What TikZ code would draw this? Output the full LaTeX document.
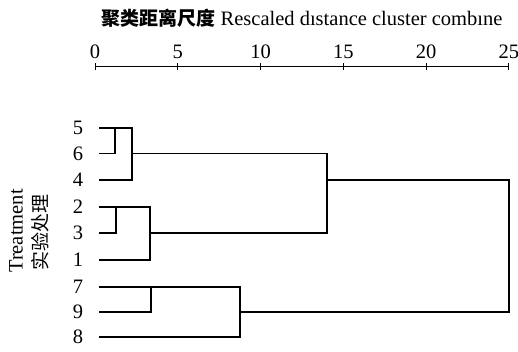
\documentclass[tikz,border=0pt]{standalone}
\usepackage{fontspec}
\setmainfont{Liberation Serif}
\newfontfamily\cjk{Noto Sans CJK SC}
\begin{document}
\begin{tikzpicture}[x=1pt,y=1pt,
  lbl/.style={font=\fontsize{20.5}{20.5}\selectfont, inner sep=0pt},
  tick/.style={font=\fontsize{20.5}{20.5}\selectfont, inner sep=0pt, anchor=base},
  ln/.style={line width=1.3pt, line cap=rect}]
\useasboundingbox (0,0) rectangle (518,351);
% rows (y = 351 - pixel row)
\def\rA{223}\def\rB{197.5}\def\rC{171}\def\rD{144}\def\rE{118}\def\rF{91}\def\rG{64}\def\rH{39}\def\rI{14}
% title
\node[lbl, anchor=base] (title) at (302,325) {{\cjk\bfseries\fontsize{19}{19}\selectfont 聚类距离尺度} Rescaled dıstance cluster combıne};
% axis
\foreach \v [count=\i] in {0,5,10,15,20,25}{
  \pgfmathsetmacro{\xx}{95+16.55*\v}
  \node[tick] (t\i) at (\xx,292) {\v};
  \coordinate (k\i) at (\xx,284);
}
\draw[line width=1pt] (95,284) -- (509,284);
\foreach \i in {1,...,6}{ \draw[line width=1pt] ([yshift=3.5pt]k\i) -- ([yshift=-3.5pt]k\i); }
% y label
\node[lbl, rotate=90] (ylab1) at (16,120) {Treatment};
\node[lbl, rotate=90] (ylab2) at (40,119) {\cjk\fontsize{19}{19}\selectfont 实验处理};
% leaf labels
\node[lbl] (n5) at (78,\rA) {5};
\node[lbl] (n6) at (78,\rB) {6};
\node[lbl] (n4) at (78,\rC) {4};
\node[lbl] (n2) at (78,\rD) {2};
\node[lbl] (n3) at (78,\rE) {3};
\node[lbl] (n1) at (78,\rF) {1};
\node[lbl] (n7) at (78,\rG) {7};
\node[lbl] (n9) at (78,\rH) {9};
\node[lbl] (n8) at (78,\rI) {8};
% leaf starts
\foreach \n in {5,6,4,2,3,1,7,9,8}{ \coordinate (s\n) at ([xshift=22pt]n\n.center); }
% merge points
\coordinate (a1) at (115,\rA); \coordinate (a2) at (115,\rB);
\coordinate (b1) at (132,\rA); \coordinate (b2) at (132,\rB); \coordinate (b3) at (132,\rC);
\coordinate (c1) at (116,\rD); \coordinate (c2) at (116,\rE);
\coordinate (d1) at (150,\rD); \coordinate (d2) at (150,\rE); \coordinate (d3) at (150,\rF);
\coordinate (e1) at (327,\rB); \coordinate (e2) at (327,\rC); \coordinate (e3) at (327,\rE);
\coordinate (f1) at (151,\rG); \coordinate (f2) at (151,\rH);
\coordinate (g1) at (240,\rG); \coordinate (g2) at (240,\rH); \coordinate (g3) at (240,\rI);
\coordinate (r1) at (509,\rC); \coordinate (r2) at (509,\rH);
% cluster {5,6,4}
\draw[ln] (s5) -- (b1);
\draw[ln] (s6) -- (a2) -- (a1);
\draw[ln] (s4) -- (b3) -- (b1);
\draw[ln] (b2) -- (e1);
% cluster {2,3,1}
\draw[ln] (s2) -- (d1);
\draw[ln] (s3) -- (c2) -- (c1);
\draw[ln] (s1) -- (d3) -- (d1);
\draw[ln] (d2) -- (e3);
\draw[ln] (e1) -- (e3);
\draw[ln] (e2) -- (r1);
% cluster {7,9,8}
\draw[ln] (s7) -- (g1);
\draw[ln] (s9) -- (f2) -- (f1);
\draw[ln] (s8) -- (g3) -- (g1);
\draw[ln] (g2) -- (r2);
% root
\draw[ln] (r1) -- (r2);
\end{tikzpicture}
\end{document}
